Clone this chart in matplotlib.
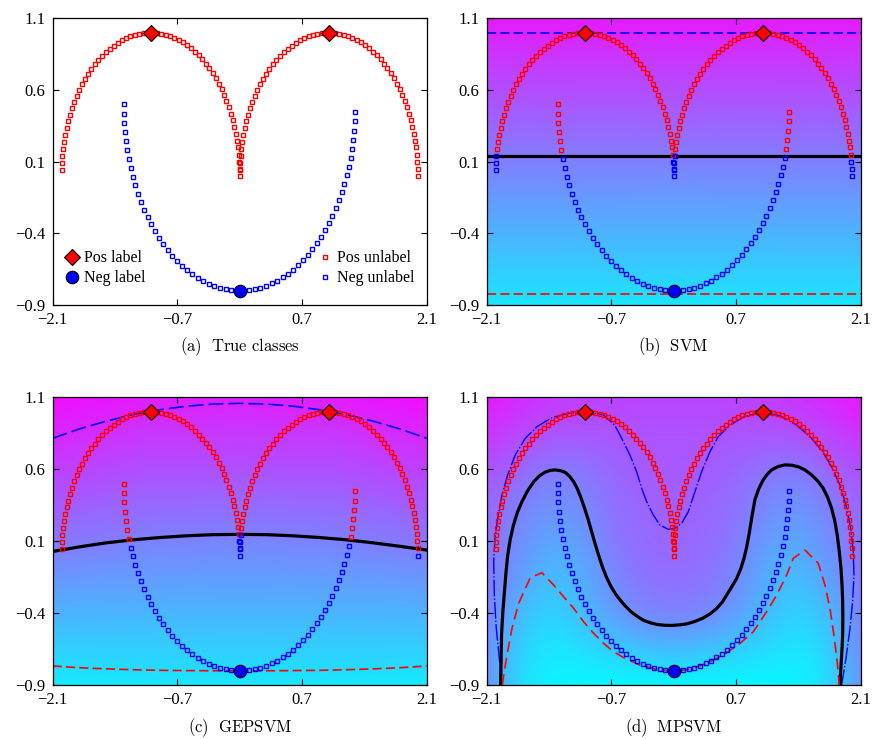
"""Vier panelen met semi-supervised classificatie op de 'drie bogen' data:
ware klassen, SVM, GEPSVM en MPSVM met hun scheidingslijnen."""
import matplotlib.pyplot as plt
import numpy as np
from matplotlib.lines import Line2D

plt.rcParams["font.family"] = ["Liberation Serif", "DejaVu Serif"]
plt.rcParams["mathtext.fontset"] = "cm"

# Gelabelde punten (ruit = positief, cirkel = negatief).
POS_LABEL_X = [-1.0, 1.0]
POS_LABEL_Y = [1.0, 1.0]
NEG_LABEL_X = [0.0]
NEG_LABEL_Y = [-0.8]

# Ongelabelde punten: twee positieve bogen (zelfde hoogtes) en één negatieve boog.
POS_Y = [0.000, 0.050, 0.100, 0.149, 0.199, 0.247, 0.296, 0.343, 0.389, 0.435,
         0.479, 0.523, 0.565, 0.605, 0.644, 0.682, 0.717, 0.751, 0.783, 0.813,
         0.841, 0.867, 0.891, 0.913, 0.932, 0.949, 0.964, 0.976, 0.985, 0.993,
         0.998, 1.000, 1.000, 0.997, 0.992, 0.984, 0.974, 0.961, 0.946, 0.929,
         0.909, 0.887, 0.863, 0.837, 0.809, 0.778, 0.746, 0.712, 0.676, 0.638,
         0.599, 0.558, 0.516, 0.472, 0.427, 0.382, 0.335, 0.288, 0.239, 0.190,
         0.141, 0.092, 0.042]
POS_LEFT_X = [0.000, -0.001, -0.005, -0.011, -0.020, -0.031, -0.045, -0.061, -0.079, -0.100,
              -0.122, -0.148, -0.175, -0.204, -0.235, -0.268, -0.303, -0.340, -0.378, -0.418,
              -0.460, -0.502, -0.546, -0.592, -0.638, -0.685, -0.733, -0.781, -0.830, -0.880,
              -0.929, -0.979, -1.029, -1.079, -1.129, -1.178, -1.227, -1.276, -1.323, -1.370,
              -1.416, -1.461, -1.505, -1.547, -1.589, -1.628, -1.666, -1.703, -1.737, -1.770,
              -1.801, -1.830, -1.857, -1.882, -1.904, -1.924, -1.942, -1.958, -1.971, -1.982,
              -1.990, -1.996, -1.999]
POS_RIGHT_X = [2.000, 1.999, 1.995, 1.989, 1.980, 1.969, 1.955, 1.939, 1.921, 1.900,
               1.878, 1.852, 1.825, 1.796, 1.765, 1.732, 1.697, 1.660, 1.622, 1.582,
               1.540, 1.498, 1.454, 1.408, 1.362, 1.315, 1.267, 1.219, 1.170, 1.120,
               1.071, 1.021, 0.971, 0.921, 0.871, 0.822, 0.773, 0.724, 0.677, 0.630,
               0.584, 0.539, 0.495, 0.453, 0.411, 0.372, 0.334, 0.297, 0.263, 0.230,
               0.199, 0.170, 0.143, 0.118, 0.096, 0.076, 0.058, 0.042, 0.029, 0.018,
               0.010, 0.004, 0.001]
NEG_X = [-1.300, -1.298, -1.294, -1.285, -1.274, -1.260, -1.242, -1.221, -1.197, -1.171,
         -1.141, -1.108, -1.073, -1.035, -0.994, -0.951, -0.906, -0.858, -0.808, -0.756,
         -0.702, -0.647, -0.590, -0.531, -0.471, -0.410, -0.348, -0.285, -0.221, -0.157,
         -0.092, -0.027, 0.038, 0.103, 0.167, 0.232, 0.295, 0.358, 0.420, 0.481,
         0.541, 0.599, 0.656, 0.712, 0.765, 0.817, 0.866, 0.914, 0.959, 1.001,
         1.041, 1.079, 1.114, 1.146, 1.175, 1.202, 1.225, 1.245, 1.262, 1.276,
         1.287, 1.295, 1.299]
NEG_Y = [0.500, 0.435, 0.370, 0.306, 0.242, 0.178, 0.116, 0.054, -0.006, -0.066,
         -0.123, -0.180, -0.234, -0.287, -0.337, -0.386, -0.433, -0.477, -0.518, -0.557,
         -0.594, -0.628, -0.659, -0.687, -0.712, -0.734, -0.753, -0.768, -0.781, -0.791,
         -0.797, -0.800, -0.799, -0.796, -0.789, -0.779, -0.766, -0.750, -0.730, -0.708,
         -0.682, -0.654, -0.622, -0.588, -0.551, -0.512, -0.469, -0.425, -0.378, -0.329,
         -0.278, -0.225, -0.170, -0.114, -0.056, 0.004, 0.065, 0.126, 0.189, 0.252,
         0.317, 0.381, 0.446]

# SVM: drie horizontale lijnen (marge +1, scheiding, marge -1).
SVM_POS = 1.0
SVM_MID = 0.141
SVM_NEG = -0.82

# GEPSVM: licht gebogen lijnen.
GEP_X = [-2.1, -1.8, -1.5, -1.2, -0.9, -0.6, -0.3, 0.0, 0.3, 0.6, 0.9, 1.2, 1.5, 1.8, 2.1]
GEP_POS = [0.815, 0.880, 0.934, 0.979, 1.013, 1.038, 1.053, 1.058, 1.053, 1.038,
           1.013, 0.979, 0.934, 0.880, 0.815]
GEP_MID = [0.028, 0.060, 0.088, 0.109, 0.125, 0.137, 0.145, 0.147, 0.145, 0.137,
           0.125, 0.109, 0.088, 0.064, 0.038]
GEP_NEG = [-0.768, -0.780, -0.788, -0.794, -0.798, -0.800, -0.801, -0.801, -0.801, -0.800,
           -0.798, -0.794, -0.788, -0.780, -0.768]

# MPSVM: niet-lineaire scheiding en marges.
MP_MID_X = [-1.943, -1.938, -1.932, -1.918, -1.900, -1.884, -1.864, -1.836, -1.800, -1.757,
            -1.704, -1.642, -1.572, -1.505, -1.442, -1.385, -1.330, -1.270, -1.217, -1.168,
            -1.123, -1.080, -1.040, -1.000, -0.960, -0.922, -0.884, -0.843, -0.800, -0.752,
            -0.700, -0.650, -0.600, -0.540, -0.480, -0.410, -0.340, -0.260, -0.180, -0.100,
            -0.020, 0.065, 0.150, 0.240, 0.330, 0.410, 0.480, 0.545, 0.600, 0.655,
            0.707, 0.752, 0.790, 0.822, 0.850, 0.880, 0.913, 0.955, 1.000, 1.050,
            1.100, 1.170, 1.250, 1.325, 1.400, 1.477, 1.550, 1.620, 1.680, 1.731,
            1.774, 1.810, 1.837, 1.860, 1.879, 1.891, 1.898, 1.900, 1.898, 1.891,
            1.882, 1.868]
MP_MID_Y = [-0.900, -0.720, -0.540, -0.390, -0.250, -0.125, 0.000, 0.110, 0.210, 0.297,
            0.374, 0.448, 0.513, 0.555, 0.580, 0.592, 0.595, 0.590, 0.578, 0.550,
            0.513, 0.462, 0.400, 0.328, 0.250, 0.168, 0.085, 0.003, -0.080, -0.154,
            -0.220, -0.270, -0.310, -0.353, -0.390, -0.423, -0.450, -0.468, -0.480, -0.485,
            -0.486, -0.482, -0.475, -0.458, -0.435, -0.405, -0.370, -0.325, -0.270, -0.215,
            -0.160, -0.095, -0.020, 0.065, 0.160, 0.275, 0.390, 0.463, 0.520, 0.564,
            0.595, 0.618, 0.630, 0.628, 0.617, 0.594, 0.560, 0.517, 0.467, 0.402,
            0.328, 0.240, 0.142, 0.030, -0.089, -0.205, -0.321, -0.437, -0.553, -0.646,
            -0.739, -0.900]
MP_POS_X = [-1.939, -1.954, -1.992, -2.014, -2.021, -2.007, -1.977, -1.928, -1.864, -1.779,
            -1.666, -1.535, -1.367, -1.179, -1.011, -0.786, -0.660, -0.584, -0.491, -0.416,
            -0.359, -0.303, -0.229, -0.154, -0.061, 0.015, 0.090, 0.164, 0.239, 0.314,
            0.408, 0.501, 0.632, 0.800, 1.000, 1.194, 1.381, 1.531, 1.662, 1.774,
            1.868, 1.935, 1.988, 2.017, 2.025, 2.010, 1.980, 1.935, 1.887]
MP_POS_Y = [-0.900, -0.739, -0.507, -0.275, -0.043, 0.119, 0.258, 0.421, 0.560, 0.699,
            0.815, 0.896, 0.958, 0.988, 1.000, 0.977, 0.905, 0.815, 0.699, 0.583,
            0.467, 0.374, 0.282, 0.212, 0.182, 0.189, 0.224, 0.304, 0.444, 0.583,
            0.722, 0.826, 0.907, 0.968, 0.996, 0.972, 0.907, 0.826, 0.733, 0.617,
            0.490, 0.351, 0.189, 0.026, -0.136, -0.321, -0.507, -0.715, -0.900]
MP_NEG_X = [-1.925, -1.872, -1.816, -1.741, -1.610, -1.479, -1.348, -1.235, -1.123, -1.011,
            -0.898, -0.786, -0.674, -0.547, -0.378, -0.209, -0.004, 0.183, 0.370, 0.557,
            0.745, 0.894, 1.044, 1.157, 1.269, 1.343, 1.474, 1.624, 1.699, 1.755,
            1.800, 1.837, 1.860]
MP_NEG_Y = [-0.900, -0.692, -0.507, -0.333, -0.154, -0.120, -0.205, -0.287, -0.367, -0.461,
            -0.541, -0.611, -0.669, -0.715, -0.762, -0.789, -0.808, -0.789, -0.750, -0.692,
            -0.611, -0.530, -0.391, -0.275, -0.136, -0.020, 0.038, -0.054, -0.205, -0.367,
            -0.553, -0.739, -0.900]

# Achtergrondkleur (0 = cyaan, 1 = magenta) per paneel, op een rooster van knooppunten.
SVM_FIELD_X = [-2.1, 2.1]
SVM_FIELD_Y = [-0.9, 1.1]
SVM_FIELD = [[0.10, 0.10],
             [0.90, 0.90]]
GEP_FIELD_X = [-2.1, -1.05, 0.0, 1.05, 2.1]
GEP_FIELD_Y = [-0.9, -0.4, 0.1, 0.6, 1.1]
GEP_FIELD = [[0.08, 0.09, 0.095, 0.09, 0.08],
             [0.30, 0.29, 0.29, 0.29, 0.30],
             [0.53, 0.49, 0.48, 0.49, 0.53],
             [0.75, 0.69, 0.68, 0.69, 0.75],
             [0.95, 0.89, 0.87, 0.89, 0.95]]
MP_FIELD_X = [-2.1, -1.75, -1.4, -1.05, -0.7, -0.35, 0.0, 0.35, 0.7, 1.05, 1.4, 1.75, 2.1]
MP_FIELD_Y = [-0.9, -0.65, -0.4, -0.15, 0.1, 0.35, 0.6, 0.85, 1.1]
MP_FIELD = [[0.45, 0.12, 0.04, 0.02, 0.01, 0.00, 0.00, 0.00, 0.01, 0.02, 0.04, 0.11, 0.45],
            [0.48, 0.18, 0.09, 0.12, 0.19, 0.25, 0.28, 0.25, 0.20, 0.14, 0.09, 0.17, 0.48],
            [0.52, 0.26, 0.16, 0.26, 0.40, 0.48, 0.51, 0.48, 0.40, 0.27, 0.17, 0.25, 0.52],
            [0.54, 0.40, 0.25, 0.30, 0.46, 0.56, 0.57, 0.56, 0.47, 0.30, 0.24, 0.39, 0.54],
            [0.56, 0.45, 0.34, 0.37, 0.53, 0.59, 0.60, 0.59, 0.52, 0.38, 0.33, 0.45, 0.57],
            [0.60, 0.50, 0.42, 0.45, 0.56, 0.61, 0.62, 0.61, 0.56, 0.46, 0.41, 0.50, 0.61],
            [0.68, 0.60, 0.52, 0.52, 0.60, 0.65, 0.66, 0.65, 0.60, 0.54, 0.51, 0.60, 0.70],
            [0.80, 0.72, 0.68, 0.67, 0.67, 0.67, 0.67, 0.67, 0.67, 0.67, 0.69, 0.74, 0.81],
            [0.92, 0.85, 0.79, 0.76, 0.75, 0.74, 0.74, 0.74, 0.75, 0.77, 0.81, 0.87, 0.93]]

XTICKS = [-2.1, -0.7, 0.7, 2.1]
YTICKS = [-0.9, -0.4, 0.1, 0.6, 1.1]

ALL_X = np.array(POS_LEFT_X + POS_RIGHT_X + NEG_X)
ALL_Y = np.array(POS_Y + POS_Y + NEG_Y)
IS_POS = np.array([True] * (2 * len(POS_Y)) + [False] * len(NEG_Y))

SQ = dict(ls="none", marker="s", ms=3.4, mfc="none", mew=1.0)
DIAMOND = dict(ls="none", marker="D", ms=8.5, mfc="#ff0000", mec="black", mew=0.8)
CIRCLE = dict(ls="none", marker="o", ms=9, mfc="#0000ff", mec="black", mew=0.8)


def _draw_points(ax, predicted_pos):
    """Ongelabelde punten (kleur = voorspelde klasse) plus de gelabelde punten."""
    ax.plot(ALL_X[predicted_pos], ALL_Y[predicted_pos], mec="#ff0000", zorder=3, **SQ)
    ax.plot(ALL_X[~predicted_pos], ALL_Y[~predicted_pos], mec="#0000ff", zorder=3, **SQ)
    ax.plot(POS_LABEL_X, POS_LABEL_Y, zorder=5, **DIAMOND)
    ax.plot(NEG_LABEL_X, NEG_LABEL_Y, zorder=5, **CIRCLE)


def _draw_lines(ax, pos_x, pos_y, mid_x, mid_y, neg_x, neg_y, pos_dashes=(5.5, 2.5)):
    ax.plot(pos_x, pos_y, color="#0000ff", lw=1.2, dashes=pos_dashes, zorder=2)
    ax.plot(mid_x, mid_y, color="black", lw=2.3, zorder=2)
    ax.plot(neg_x, neg_y, color="#ff0000", lw=1.2, dashes=(5.5, 2.5), zorder=2)


def _style(ax, caption):
    ax.set_xlim(-2.1, 2.1)
    ax.set_ylim(-0.9, 1.1)
    ax.set_xticks(XTICKS)
    ax.set_yticks(YTICKS)
    ax.set_xticklabels(["\u22122.1", "\u22120.7", "0.7", "2.1"])
    ax.set_yticklabels(["\u22120.9", "\u22120.4", "0.1", "0.6", "1.1"])
    ax.tick_params(direction="in", top=True, right=True, length=4, width=0.8,
                   labelsize=12, pad=5)
    for sp in ax.spines.values():
        sp.set_linewidth(0.9)
    ax.text(0.5, -0.147, caption, transform=ax.transAxes, ha="center", va="center",
            fontsize=12)


fig = plt.figure(figsize=(8.81, 7.39), dpi=100)
ax_a = fig.add_axes([0.0598, 0.5873, 0.4245, 0.388])
ax_b = fig.add_axes([0.5524, 0.5873, 0.4245, 0.388])
ax_c = fig.add_axes([0.0598, 0.0731, 0.4245, 0.3893])
ax_d = fig.add_axes([0.5524, 0.0731, 0.4245, 0.3893])

# (a) ware klassen
_draw_points(ax_a, IS_POS)
handles_l = [Line2D([], [], **DIAMOND), Line2D([], [], **CIRCLE)]
handles_u = [Line2D([], [], mec="#ff0000", **SQ), Line2D([], [], mec="#0000ff", **SQ)]
leg = ax_a.legend(handles_l, ["Pos label", "Neg label"], loc="lower left",
                  bbox_to_anchor=(-0.005, 0.015), frameon=False, fontsize=11.5,
                  handlelength=0.9, handletextpad=0.3, labelspacing=0.25)
ax_a.add_artist(leg)
ax_a.legend(handles_u, ["Pos unlabel", "Neg unlabel"], loc="lower right",
            bbox_to_anchor=(1.005, 0.015), frameon=False, fontsize=11.5,
            handlelength=0.9, handletextpad=0.3, labelspacing=0.25)
_style(ax_a, r"$\mathrm{(a)\ \ True\ classes}$")

# (b) SVM
ax_b.pcolormesh(SVM_FIELD_X, SVM_FIELD_Y, SVM_FIELD, shading="gouraud", cmap="cool",
                vmin=0, vmax=1, zorder=0)
_draw_lines(ax_b, [-2.1, 2.1], [SVM_POS] * 2, [-2.1, 2.1], [SVM_MID] * 2,
            [-2.1, 2.1], [SVM_NEG] * 2)
_draw_points(ax_b, ALL_Y > SVM_MID)
_style(ax_b, r"$\mathrm{(b)\ \ SVM}$")

# (c) GEPSVM
ax_c.pcolormesh(GEP_FIELD_X, GEP_FIELD_Y, GEP_FIELD, shading="gouraud", cmap="cool",
                vmin=0, vmax=1, zorder=0)
_draw_lines(ax_c, GEP_X, GEP_POS, GEP_X, GEP_MID, GEP_X, GEP_NEG, pos_dashes=(9, 3))
_draw_points(ax_c, ALL_Y > np.interp(ALL_X, GEP_X, GEP_MID))
_style(ax_c, r"$\mathrm{(c)\ \ GEPSVM}$")

# (d) MPSVM
dx = MP_FIELD_X[1] - MP_FIELD_X[0]
dy = MP_FIELD_Y[1] - MP_FIELD_Y[0]
ax_d.imshow(MP_FIELD, cmap="cool", vmin=0, vmax=1, origin="lower", aspect="auto",
            interpolation="bicubic", zorder=0,
            extent=[MP_FIELD_X[0] - dx / 2, MP_FIELD_X[-1] + dx / 2,
                    MP_FIELD_Y[0] - dy / 2, MP_FIELD_Y[-1] + dy / 2])
ax_d.plot(MP_POS_X, MP_POS_Y, color="#0000ff", lw=1.0, dashes=(12, 1.5, 1, 1.5), zorder=2)
ax_d.plot(MP_MID_X, MP_MID_Y, color="black", lw=2.3, zorder=2)
ax_d.plot(MP_NEG_X, MP_NEG_Y, color="#ff0000", lw=1.2, dashes=(6.5, 3.5), zorder=2)
_draw_points(ax_d, IS_POS)
_style(ax_d, r"$\mathrm{(d)\ \ MPSVM}$")

fig.savefig("out.png", dpi=100)
